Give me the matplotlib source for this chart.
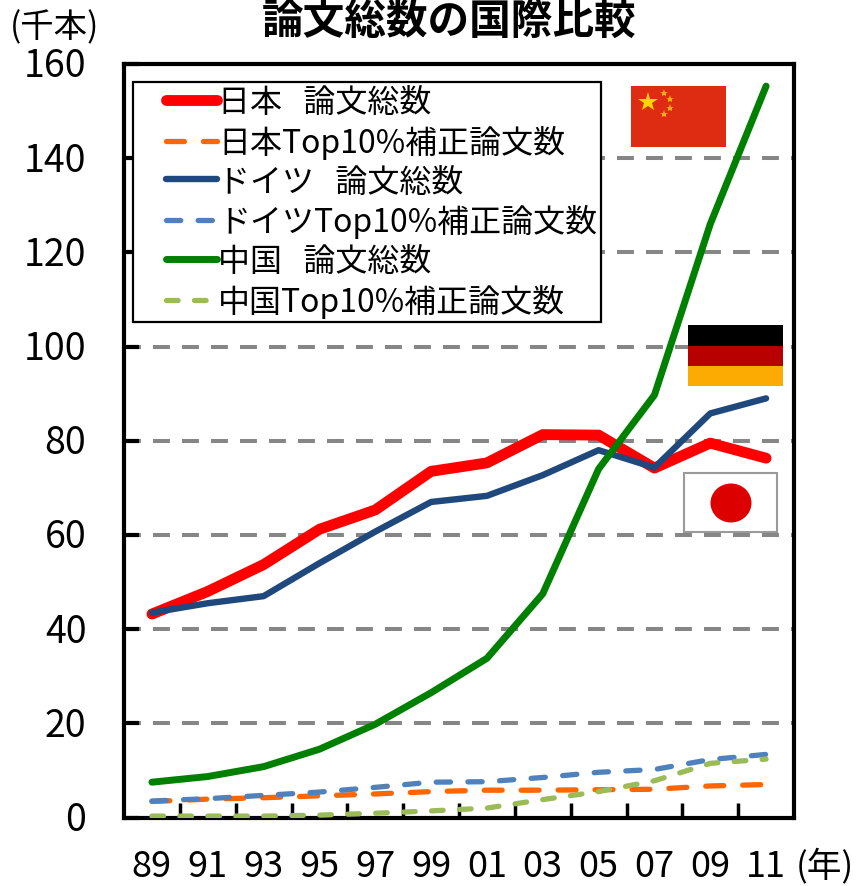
import matplotlib
matplotlib.use("Agg")
import matplotlib.pyplot as plt
from matplotlib.legend_handler import HandlerLine2D
from matplotlib.patches import Rectangle, Ellipse
from matplotlib.transforms import Affine2D, ScaledTranslation

plt.rcParams['font.family'] = ['Noto Sans CJK JP', 'DejaVu Sans']

years = ['89', '91', '93', '95', '97', '99', '01', '03', '05', '07', '09', '11']
japan = [43.2, 48, 53.7, 61.2, 65.3, 73.5, 75.3, 81.3, 81.2, 74.2, 79.5, 76.3]
germany = [43.5, 45.5, 47, 54, 60.7, 67, 68.3, 72.7, 78, 74.3, 85.8, 89]
china = [7.5, 8.7, 10.8, 14.5, 19.8, 26.5, 33.8, 47.5, 74, 89.7, 126, 155.3]
japan_top = [3.4, 3.9, 4.2, 4.6, 5.0, 5.5, 5.8, 5.8, 5.9, 6.0, 6.7, 7.0]
germany_top = [3.5, 4.0, 4.7, 5.4, 6.4, 7.5, 7.6, 8.5, 9.6, 10.2, 12.3, 13.4]
china_top = [0.3, 0.3, 0.3, 0.5, 0.9, 1.4, 2.0, 3.8, 5.5, 7.8, 11.5, 12.4]
yticks = [0, 20, 40, 60, 80, 100, 120, 140, 160]

W, H = 857, 887
fig = plt.figure(figsize=(W / 100, H / 100), dpi=100)
ax = fig.add_axes([124 / W, 1 - 818.5 / H, (794 - 124) / W, (818.5 - 65) / H])
x = list(range(len(years)))

for v in yticks[1:-1]:
    ax.axhline(v, color='#868686', lw=2.9, dashes=(4.2, 3), zorder=1)

dash = dict(lw=3.8, dash_capstyle='round', dash_joinstyle='round')
ax.plot(x, japan_top, color='#ff6600', dashes=(3.4, 3.6), label='日本Top10%補正論文数', zorder=3, **dash)
ax.plot(x, germany_top, color='#4f81bd', dashes=(2.7, 3.3), label='ドイツTop10%補正論文数', zorder=3, **dash)
ax.plot(x, china_top, color='#9bbb59', dashes=(2.2, 3.1), label='中国Top10%補正論文数', zorder=3, **dash)
ax.plot(x, japan, color='#ff0000', lw=7.8, solid_capstyle='round', label='日本   論文総数', zorder=4)
ax.plot(x, germany, color='#1f497d', lw=4.6, solid_capstyle='round', label='ドイツ   論文総数', zorder=5)
ax.plot(x, china, color='#008000', lw=5, solid_capstyle='round', label='中国   論文総数', zorder=6)

ax.set_xlim(-0.5, 11.5)
ax.set_ylim(0, 160)
ax.set_yticks(yticks)
ax.set_xticks(x)
ax.set_xticklabels(years)
ax.set_xticks([i + 0.5 for i in x[:-1]], minor=True)
ax.tick_params(axis='x', which='major', length=0, pad=22, labelsize=26)
ax.tick_params(axis='x', which='minor', direction='in', length=11, width=2.5)
ax.tick_params(axis='y', direction='in', length=11, width=3, pad=27, labelsize=27)
for s in ax.spines.values():
    s.set_linewidth(3)
for t in ax.get_yticklabels():
    t.set_transform(t.get_transform() + ScaledTranslation(0, 2.5 / 100, fig.dpi_scale_trans))


class IndentedLine(HandlerLine2D):
    # 凡例の線を右へ寄せる
    def get_xdata(self, legend, xdescent, ydescent, width, height, fontsize):
        xs = [-xdescent + 0.9 * fontsize, -xdescent + width]
        return xs, xs


h, l = ax.get_legend_handles_labels()
order = [3, 0, 4, 1, 5, 2]
leg = ax.legend([h[i] for i in order], [l[i] for i in order], loc='upper left',
                bbox_to_anchor=(9 / 670, (818.5 - 320) / 753.5, 468 / 670, 237 / 753.5), mode='expand',
                borderaxespad=0, fontsize=23, frameon=True, fancybox=False, framealpha=1, edgecolor='black',
                handlelength=2.5, handletextpad=0.03, labelspacing=0.21, borderpad=0.13,
                handler_map={type(h[0]): IndentedLine()})
leg.get_frame().set_linewidth(1.6)
leg.set_zorder(7)

px = Affine2D().scale(1 / W, -1 / H).translate(0, 1) + fig.transFigure


def box(x0, y0, x1, y1, color, **kw):
    ax.add_patch(Rectangle((x0, y0), x1 - x0, y1 - y0, transform=px, facecolor=color,
                           edgecolor=kw.get('edgecolor', 'none'), lw=kw.get('lw', 0),
                           clip_on=False, zorder=8))


# 国旗
box(631, 87, 726, 148, '#de2c12')
ax.plot([648], [103], marker='*', ms=15, color='#ffd500', mew=0, transform=px, clip_on=False, zorder=9)
for sx, sy in [(664, 94), (670, 100), (670, 109), (664, 115)]:
    ax.plot([sx], [sy], marker='*', ms=6, color='#f7a81b', mew=0, transform=px, clip_on=False, zorder=9)

box(688, 326, 783, 347, '#000000')
box(688, 347, 783, 367, '#b90000')
box(688, 367, 783, 387, '#fcab03')

box(684, 474, 777, 533, '#ffffff', edgecolor='#9a9a9a', lw=1.5)
ax.add_patch(Ellipse((731, 504), 41, 39, transform=px, facecolor='#dc0000', edgecolor='none',
                     clip_on=False, zorder=9))

fig.text(449 / W, 1 - 22 / H, '論文総数の国際比較', fontsize=30, fontweight='bold', ha='center', va='center')
fig.text(10 / W, 1 - 28 / H, '(千本)', fontsize=24, ha='left', va='center')
fig.text(796 / W, 1 - 867 / H, '(年)', fontsize=25, ha='left', va='center')

fig.savefig('out.png', dpi=100)
